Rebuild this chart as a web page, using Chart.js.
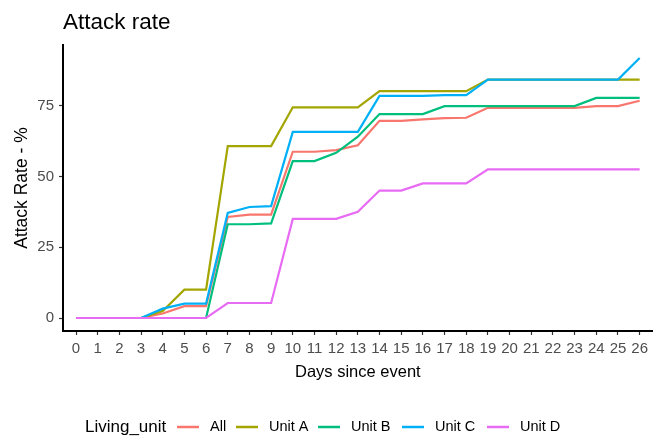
<!DOCTYPE html>
<html>
<head>
<meta charset="utf-8">
<script src="https://cdn.jsdelivr.net/npm/chart.js@4/dist/chart.umd.min.js"></script>
<style>
  html, body { margin: 0; padding: 0; background: #fff; }
  #wrap { width: 653px; height: 439px; position: relative; }
</style>
</head>
<body>
<div id="wrap"><canvas id="chart" width="653" height="439"></canvas></div>
<script>
const days = [0,1,2,3,4,5,6,7,8,9,10,11,12,13,14,15,16,17,18,19,20,21,22,23,24,25,26];
const yTicks = [0, 25, 50, 75];

const unitNames = ['All', 'Unit A', 'Unit B', 'Unit C', 'Unit D'];
const unitColors = ['#F8766D', '#A3A500', '#00BF7D', '#00B0F6', '#E76BF3'];

const rateAll   = [0,0,0,0,1.6,4.2,4.2,35.7,36.5,36.5,58.7,58.7,59.3,61,69.6,69.6,70.1,70.6,70.7,74.2,74.2,74.2,74.2,74.2,74.8,74.8,76.7];
const rateUnitA = [0,0,0,0,2.5,10,10,60.7,60.7,60.7,74.4,74.4,74.4,74.4,80.1,80.1,80.1,80.1,80.1,84.2,84.2,84.2,84.2,84.2,84.2,84.2,84.2];
const rateUnitB = [0,0,0,0,0,0,0,33.1,33.1,33.4,55.4,55.4,58.3,64,72,72,72,74.8,74.8,74.8,74.8,74.8,74.8,74.8,77.7,77.7,77.7];
const rateUnitC = [0,0,0,0,3.3,5.1,5.1,37.1,39.2,39.5,65.7,65.7,65.7,65.7,78.4,78.4,78.4,78.7,78.7,84.2,84.2,84.2,84.2,84.2,84.2,84.2,91.8];
const rateUnitD = [0,0,0,0,0,0,0,5.3,5.3,5.3,35,35,35,37.5,45,45,47.5,47.5,47.5,52.5,52.5,52.5,52.5,52.5,52.5,52.5,52.5];

const rates = [rateAll, rateUnitA, rateUnitB, rateUnitC, rateUnitD];
const font = 'Liberation Sans, Arial, Helvetica, sans-serif';

function makeDataset(i) {
    return {
        label: unitNames[i],
        data: rates[i].map((v, j) => ({ x: days[j], y: v })),
        borderColor: unitColors[i],
        backgroundColor: unitColors[i],
        borderWidth: 2.2,
        pointRadius: 0,
        tension: 0,
        fill: false,
        order: unitNames.length - i
    };
}

// ggplot style legend: title on the left, keys in a row
const rowLegend = {
    id: 'rowLegend',
    afterDraw(chart) {
        const ctx = chart.ctx;
        const y = 427;
        ctx.save();
        ctx.textBaseline = 'middle';
        ctx.fillStyle = '#000';
        ctx.font = '17px ' + font;
        ctx.fillText('Living_unit', 85, y);
        const keyX = [177, 236, 318, 402, 487];
        chart.data.datasets.forEach((ds, i) => {
            ctx.strokeStyle = ds.borderColor;
            ctx.lineWidth = 2.5;
            ctx.beginPath();
            ctx.moveTo(keyX[i], y);
            ctx.lineTo(keyX[i] + 22, y);
            ctx.stroke();
            ctx.fillStyle = '#000';
            ctx.font = '14.5px ' + font;
            ctx.fillText(ds.label, keyX[i] + 33, y);
        });
        ctx.restore();
    }
};

new Chart(document.getElementById('chart'), {
    type: 'line',
    data: { datasets: unitNames.map((n, i) => makeDataset(i)) },
    options: {
        responsive: false,
        animation: false,
        layout: { padding: { left: 0, right: 0, top: 0, bottom: 53 } },
        plugins: {
            legend: { display: false },
            tooltip: { enabled: false },
            title: {
                display: true,
                text: 'Attack rate',
                align: 'start',
                fullSize: false,
                color: '#000',
                font: { family: font, size: 22.5, weight: 'normal' },
                padding: { top: 9, bottom: 9 }
            }
        },
        scales: {
            x: {
                type: 'linear',
                min: -0.6,
                max: 26.6,
                afterBuildTicks: axis => { axis.ticks = days.map(v => ({ value: v })); },
                afterFit: axis => { axis.height = 55; },
                ticks: {
                    color: '#4d4d4d',
                    font: { family: font, size: 15 },
                    padding: 5,
                    maxRotation: 0,
                    autoSkip: false,
                    callback: v => String(v)
                },
                grid: { drawOnChartArea: false, drawTicks: true, tickLength: 4, color: '#333', tickWidth: 1.2 },
                border: { display: true, color: '#000', width: 2 },
                title: {
                    display: true,
                    text: 'Days since event',
                    color: '#000',
                    font: { family: font, size: 16.5 },
                    padding: { top: 0 }
                }
            },
            y: {
                type: 'linear',
                min: -4.59,
                max: 96.39,
                afterBuildTicks: axis => { axis.ticks = yTicks.map(v => ({ value: v })); },
                afterFit: axis => { axis.width = 63; },
                ticks: {
                    color: '#4d4d4d',
                    font: { family: font, size: 15 },
                    padding: 5
                },
                grid: { drawOnChartArea: false, drawTicks: true, tickLength: 4, color: '#333', tickWidth: 1.2 },
                border: { display: true, color: '#000', width: 2 },
                title: {
                    display: true,
                    text: 'Attack Rate - %',
                    color: '#000',
                    font: { family: font, size: 17.5 },
                    padding: { top: 12, bottom: 4 }
                }
            }
        }
    },
    plugins: [rowLegend]
});
</script>
</body>
</html>
